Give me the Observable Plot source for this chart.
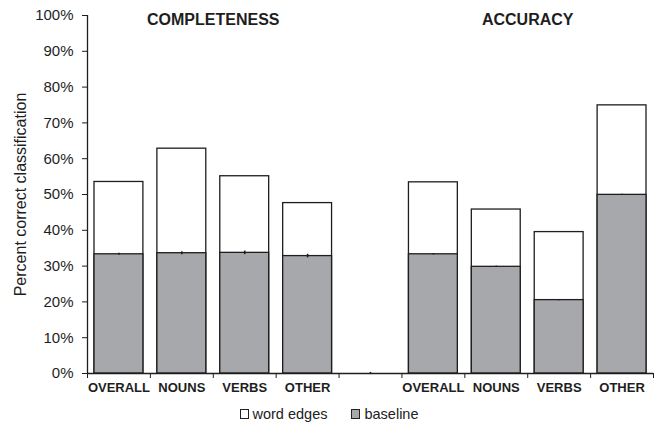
<!DOCTYPE html>
<html>
<head>
<meta charset="utf-8">
<script src="https://cdn.jsdelivr.net/npm/d3@7"></script>
<script src="https://cdn.jsdelivr.net/npm/@observablehq/plot@0.6"></script>
<style>
  html, body { margin: 0; padding: 0; background: #fff; }
  body { width: 658px; height: 423px; overflow: hidden; font-family: "Liberation Sans", Arial, sans-serif; color: #222; }
  #legend { display: flex; justify-content: center; align-items: center; height: 25px; font-size: 14.5px; padding-top: 3px; }
  .item { display: flex; align-items: center; }
  .sw { width: 9px; height: 10px; border: 1px solid #222; box-sizing: border-box; margin-right: 4px; }
</style>
</head>
<body>
<div id="chart"></div>
<div id="legend"></div>
<script>
const categories = ["OVERALL", "NOUNS", "VERBS", "OTHER", "", "OVERALL", "NOUNS", "VERBS", "OTHER"];
const wordEdges  = [53.5, 62.8, 55.1, 47.6, 0, 53.4, 45.8, 39.5, 74.9];
const baseline   = [33.3, 33.6, 33.7, 32.8, 0, 33.3, 29.8, 20.5, 49.9];
const baselineErr = [0.3, 0.4, 0.5, 0.5, 0.3, 0.2, 0.2, 0.2, 0.2];
const groupTitles = ["COMPLETENESS", "ACCURACY"];
const groupFirst = [0, 5];
const groupLast  = [3, 8];
const yTicks = [0, 10, 20, 30, 40, 50, 60, 70, 80, 90, 100];
const seriesNames = ["word edges", "baseline"];
const seriesColors = ["#ffffff", "#a7a8ab"];
const yLabel = "Percent correct classification";

const rows = categories.map((c, i) => ({
  i, cat: c, total: wordEdges[i], base: baseline[i], err: baselineErr[i]
}));
const bars = rows.filter(d => d.cat !== "");
const groups = groupTitles.map((t, k) => ({ t, center: (groupFirst[k] + groupLast[k] + 1) / 2 }));
const ink = "#1e1e1e";

const chart = Plot.plot({
  width: 658,
  height: 398,
  marginLeft: 87,
  marginRight: 5,
  marginTop: 15,
  marginBottom: 25,
  style: { fontFamily: "'Liberation Sans', Arial, sans-serif", color: ink, background: "#fff" },
  x: { type: "linear", domain: [0, categories.length], axis: null },
  y: { domain: [0, 100], axis: null },
  marks: [
    Plot.rectY(bars, { x1: "i", x2: d => d.i + 1, y1: 0, y2: "total", fill: seriesColors[0], stroke: ink, strokeWidth: 1.3, insetLeft: 7, insetRight: 7 }),
    Plot.rectY(bars, { x1: "i", x2: d => d.i + 1, y1: 0, y2: "base", fill: seriesColors[1], stroke: ink, strokeWidth: 1.3, insetLeft: 7, insetRight: 7 }),
    Plot.ruleX(rows, { x: d => d.i + 0.5, y1: d => d.base - d.err, y2: d => d.base + d.err, stroke: ink, strokeWidth: 1.6 }),
    Plot.axisY({ ticks: yTicks, tickFormat: d => d + "%", tickSize: 5, tickPadding: 9, fontSize: 15, label: null, stroke: ink }),
    Plot.axisX({ ticks: d3.range(categories.length + 1), tickFormat: () => "", tickSize: 5, label: null, stroke: ink }),
    Plot.ruleX([0], { stroke: ink, strokeWidth: 1.3 }),
    Plot.ruleY([0], { stroke: ink, strokeWidth: 1.3 }),
    Plot.text(rows.filter(d => d.cat !== ""), { x: d => d.i + 0.5, y: 0, text: "cat", dy: 14, lineAnchor: "middle", fontSize: 13, fontWeight: "bold", fill: ink }),
    Plot.text(groups, { x: "center", y: 100, text: "t", dy: 4, lineAnchor: "middle", fontSize: 16, fontWeight: "bold", fill: ink }),
    Plot.text([yLabel], { frameAnchor: "left", textAnchor: "middle", lineAnchor: "middle", dx: -67, rotate: -90, fontSize: 16, fill: ink })
  ]
});
document.getElementById("chart").appendChild(chart);

const legend = document.getElementById("legend");
seriesNames.forEach((name, k) => {
  const it = document.createElement("div");
  it.className = "item";
  if (k > 0) it.style.marginLeft = "24px";
  const sw = document.createElement("span");
  sw.className = "sw";
  sw.style.background = seriesColors[k];
  const tx = document.createElement("span");
  tx.textContent = name;
  it.appendChild(sw); it.appendChild(tx);
  legend.appendChild(it);
});
</script>
</body>
</html>
